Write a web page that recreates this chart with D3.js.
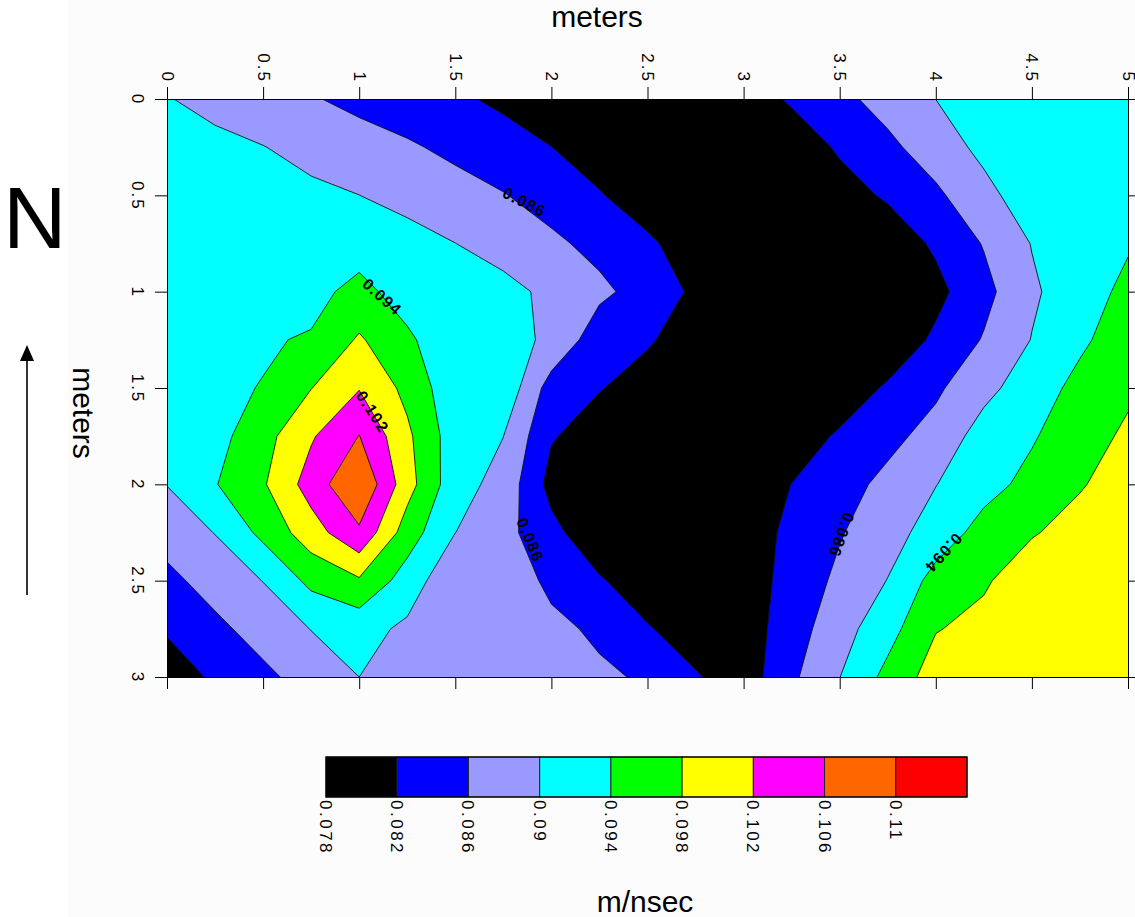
<!DOCTYPE html>
<html>
<head>
<meta charset="utf-8">
<script src="https://cdn.jsdelivr.net/npm/d3@7"></script>
<style>
  html, body { margin: 0; padding: 0; background: #ffffff; }
  svg { display: block; font-family: "Liberation Sans", Arial, sans-serif; }
</style>
</head>
<body>
<svg id="chart" width="1135" height="917"></svg>
<script>
// Survey grid positions (meters)
const xGrid = [0, 0.25, 0.5, 0.75, 1, 1.25, 1.5, 1.75, 2, 2.25, 2.5, 2.75, 3, 3.25, 3.5, 3.75, 4, 4.25, 4.5, 4.75, 5];
const yGrid = [0, 0.25, 0.5, 0.75, 1, 1.25, 1.5, 1.75, 2, 2.25, 2.5, 2.75, 3];

// Radar wave velocity (m/nsec), one row per yGrid entry, one column per xGrid entry
const velocity = [
  [0.0902, 0.0888, 0.0875, 0.0863, 0.0850, 0.0838, 0.0826, 0.0813, 0.0801, 0.0792, 0.0788, 0.0790, 0.0800, 0.0825, 0.0850, 0.0875, 0.09002, 0.0908, 0.0912, 0.0914, 0.0915],
  [0.0916, 0.0910, 0.0901, 0.0888, 0.0876, 0.0865, 0.0851, 0.0835, 0.08203, 0.0806, 0.0795, 0.0790, 0.0795, 0.0798, 0.0825, 0.0851, 0.0880, 0.0910, 0.0916, 0.0918, 0.0922],
  [0.0925, 0.0920, 0.0915, 0.0908, 0.09002, 0.0887, 0.0875, 0.0862, 0.0843, 0.0822, 0.0805, 0.0795, 0.0792, 0.0797, 0.0805, 0.0825, 0.08526, 0.0888, 0.0922, 0.0926, 0.0929],
  [0.0930, 0.0927, 0.0924, 0.0921, 0.0925, 0.0915, 0.09003, 0.0884, 0.0868, 0.0848, 0.0825, 0.0805, 0.0795, 0.0792, 0.0793, 0.0797, 0.0826, 0.08625, 0.09015, 0.0925, 0.09365],
  [0.0932, 0.0933, 0.0932, 0.0930, 0.0950, 0.0925, 0.0915, 0.0912, 0.0891, 0.0869, 0.0843, 0.0813, 0.0800, 0.0793, 0.0790, 0.0795, 0.0809, 0.0848, 0.0894, 0.0923, 0.0949],
  [0.0933, 0.0934, 0.0937, 0.09428, 0.0985, 0.0946, 0.0915, 0.0914, 0.0893, 0.0836, 0.0824, 0.0802, 0.0795, 0.0790, 0.0790, 0.0793, 0.0827, 0.0863, 0.09013, 0.0933, 0.0961],
  [0.0932, 0.0935, 0.0941, 0.0979, 0.1018, 0.0969, 0.0912, 0.0930, 0.0842, 0.0822, 0.0805, 0.0795, 0.0790, 0.0790, 0.0797, 0.0825, 0.08533, 0.08885, 0.0921, 0.0951, 0.0974],
  [0.0925, 0.0926, 0.09655, 0.10156, 0.1061, 0.0988, 0.0918, 0.09003, 0.08233, 0.0801, 0.0793, 0.0790, 0.0792, 0.0800, 0.0825, 0.08494, 0.0874, 0.0917, 0.0936, 0.0965, 0.0986],
  [0.0901, 0.09378, 0.09757, 0.10375, 0.1098, 0.0996, 0.0915, 0.08867, 0.08065, 0.0795, 0.0790, 0.0790, 0.0795, 0.08205, 0.08452, 0.08699, 0.0899, 0.09258, 0.09516, 0.09767, 0.0999],
  [0.08757, 0.09012, 0.09506, 0.10017, 0.10531, 0.09601, 0.09003, 0.0873, 0.0832, 0.0790, 0.0788, 0.0788, 0.0800, 0.08288, 0.0857, 0.0885, 0.09167, 0.09551, 0.09768, 0.0995, 0.1008],
  [0.0850, 0.08756, 0.09009, 0.09506, 0.0975, 0.0922, 0.0868, 0.0876, 0.08543, 0.08245, 0.0795, 0.0790, 0.0799, 0.08341, 0.08687, 0.09011, 0.09548, 0.09752, 0.10029, 0.1008, 0.1012],
  [0.08243, 0.08508, 0.08758, 0.0901, 0.0914, 0.08926, 0.08863, 0.08761, 0.0866, 0.08556, 0.08235, 0.0798, 0.0799, 0.08415, 0.08842, 0.0925, 0.0978, 0.0991, 0.1002, 0.1010, 0.1014],
  [0.0799, 0.08262, 0.08511, 0.08762, 0.0900, 0.08927, 0.08856, 0.08784, 0.08713, 0.08641, 0.08569, 0.0824, 0.0798, 0.08526, 0.08995, 0.09515, 0.09984, 0.1008, 0.1012, 0.1014, 0.1015]
];

// Contour levels and their fill colours
const levels = [0.078, 0.082, 0.086, 0.09, 0.094, 0.098, 0.102, 0.106, 0.11];
const levelColors = ["#000000", "#0000ff", "#9999ff", "#00ffff", "#00ff00", "#ffff00", "#ff00ff", "#ff6600", "#ff0000"];

// Axis ticks (meters)
const xTicks = [0, 0.5, 1, 1.5, 2, 2.5, 3, 3.5, 4, 4.5, 5];
const yTicks = [0, 0.5, 1, 1.5, 2, 2.5, 3];

// Contour line labels: which level, where along the line (meters) and text angle
const lineLabels = [
  { level: 0.086, x: 1.86, y: 0.535, angle: 27 },
  { level: 0.094, x: 1.12, y: 1.027, angle: 42 },
  { level: 0.102, x: 1.07, y: 1.624, angle: 57 },
  { level: 0.086, x: 1.89, y: 2.289, angle: 67 },
  { level: 0.086, x: 3.51, y: 2.263, angle: 110 },
  { level: 0.094, x: 4.04, y: 2.356, angle: 132 }
];

const svg = d3.select("#chart");
const fmt = d3.format("~g");

svg.append("rect").attr("x", 68).attr("y", 0).attr("width", 1067).attr("height", 917).attr("fill", "#fcfcfc");

const xScale = d3.scaleLinear().domain([0, 5]).range([167, 1128]);
const yScale = d3.scaleLinear().domain([0, 3]).range([99, 677]);

// Contour grid coordinates -> meters (d3.contours puts sample i at i + 0.5)
const nx = xGrid.length, ny = yGrid.length;
const gridX = d3.scaleLinear().domain([0.5, nx - 0.5]).range([xGrid[0], xGrid[nx - 1]]);
const gridY = d3.scaleLinear().domain([0.5, ny - 0.5]).range([yGrid[0], yGrid[ny - 1]]);
const toScreen = d3.geoTransform({
  point(x, y) { this.stream.point(xScale(gridX(x)), yScale(gridY(y))); }
});
const path = d3.geoPath(toScreen);

const bands = d3.contours().size([nx, ny]).thresholds(levels)(velocity.flat());

svg.append("clipPath").attr("id", "plot-clip")
  .append("rect")
  .attr("x", xScale(0)).attr("y", yScale(0))
  .attr("width", xScale(5) - xScale(0)).attr("height", yScale(3) - yScale(0));

const plot = svg.append("g").attr("clip-path", "url(#plot-clip)");
plot.selectAll("path.band")
  .data(bands)
  .join("path")
  .attr("class", "band")
  .attr("d", path)
  .attr("fill", d => levelColors[levels.indexOf(d.value)])
  .attr("stroke", "#111")
  .attr("stroke-width", 0.9)
  .attr("stroke-linejoin", "round");

// Contour labels
svg.append("g")
  .selectAll("text")
  .data(lineLabels)
  .join("text")
  .attr("transform", d => `translate(${xScale(d.x)},${yScale(d.y)}) rotate(${d.angle})`)
  .attr("text-anchor", "middle")
  .attr("dy", "0.35em")
  .attr("font-size", 16)
  .attr("font-weight", "bold")
  .attr("letter-spacing", "1.3px")
  .attr("fill", "#000")
  .text(d => d3.format(".3f")(d.level));

// Axes
function styleAxis(g) {
  g.attr("font-family", "'Liberation Sans', Arial, sans-serif")
    .attr("font-size", 17)
    .attr("color", "#000");
  g.selectAll("text").attr("fill", "#000").style("letter-spacing", "2px");
  g.selectAll("line, path").attr("stroke", "#000");
}

svg.append("g")
  .attr("transform", `translate(0,${yScale(0)})`)
  .call(d3.axisTop(xScale).tickValues(xTicks).tickSize(12).tickSizeOuter(0).tickFormat(fmt))
  .call(styleAxis)
  .call(g => g.selectAll("text")
    .attr("transform", "rotate(90)")
    .attr("x", -16).attr("y", 0).attr("dy", "0.35em")
    .attr("text-anchor", "end"));

svg.append("g")
  .attr("transform", `translate(${xScale(0)},0)`)
  .call(d3.axisLeft(yScale).tickValues(yTicks).tickSize(12).tickSizeOuter(0).tickFormat(fmt))
  .call(styleAxis)
  .call(g => g.selectAll("text")
    .attr("transform", "rotate(90)")
    .attr("x", 0).attr("y", 29).attr("dy", "0.35em")
    .attr("text-anchor", "middle"));

svg.append("g")
  .attr("transform", `translate(0,${yScale(3)})`)
  .call(d3.axisBottom(xScale).tickValues(xTicks).tickSize(12).tickSizeOuter(0).tickFormat(""))
  .call(styleAxis);

svg.append("g")
  .attr("transform", `translate(${xScale(5)},0)`)
  .call(d3.axisRight(yScale).tickValues(yTicks).tickSize(12).tickSizeOuter(0).tickFormat(""))
  .call(styleAxis);

// Axis titles
svg.append("text")
  .attr("x", 597).attr("y", 27)
  .attr("text-anchor", "middle")
  .attr("font-size", 30)
  .attr("fill", "#000")
  .text("meters");

svg.append("text")
  .attr("transform", "translate(73,413) rotate(90)")
  .attr("text-anchor", "middle")
  .attr("font-size", 30)
  .attr("fill", "#000")
  .text("meters");

// North marker
svg.append("text")
  .attr("x", 3).attr("y", 248)
  .attr("font-size", 88)
  .attr("fill", "#000")
  .text("N");

svg.append("line")
  .attr("x1", 27).attr("x2", 27)
  .attr("y1", 595).attr("y2", 358)
  .attr("stroke", "#000").attr("stroke-width", 1.6);
svg.append("path")
  .attr("d", "M27,345 L20,361 L34,361 Z")
  .attr("fill", "#000");

// Colour scale bar
const barScale = d3.scaleLinear().domain([0, levels.length]).range([326, 967]);
const bar = svg.append("g");
bar.selectAll("rect")
  .data(levels)
  .join("rect")
  .attr("x", (d, i) => barScale(i))
  .attr("y", 757)
  .attr("width", (d, i) => barScale(i + 1) - barScale(i))
  .attr("height", 40)
  .attr("fill", (d, i) => levelColors[i])
  .attr("stroke", "#222")
  .attr("stroke-width", 1);
bar.append("rect")
  .attr("x", barScale(0)).attr("y", 757)
  .attr("width", barScale(levels.length) - barScale(0)).attr("height", 40)
  .attr("fill", "none").attr("stroke", "#000").attr("stroke-width", 1.2);

bar.selectAll("text")
  .data(levels)
  .join("text")
  .attr("transform", (d, i) => `translate(${barScale(i)},800) rotate(90)`)
  .attr("dy", "0.35em")
  .attr("text-anchor", "start")
  .attr("font-size", 17)
  .attr("letter-spacing", "2.5px")
  .attr("fill", "#000")
  .text(d => fmt(d));

svg.append("text")
  .attr("x", 645).attr("y", 912)
  .attr("text-anchor", "middle")
  .attr("font-size", 30)
  .attr("fill", "#000")
  .text("m/nsec");
</script>
</body>
</html>
